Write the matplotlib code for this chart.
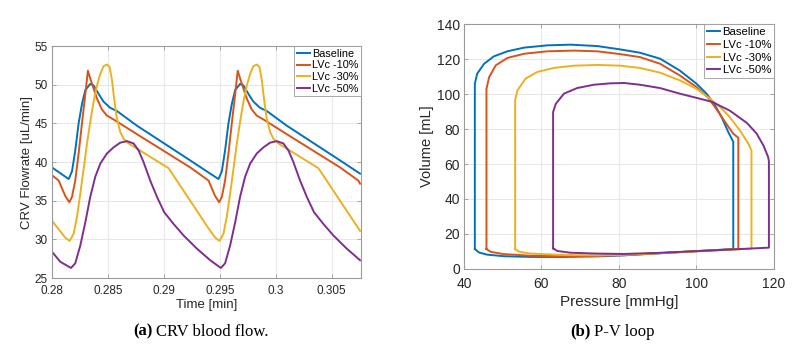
import numpy as np
import matplotlib.pyplot as plt

plt.rcParams['font.family'] = ['Liberation Sans', 'DejaVu Sans']

# --- (a) CRV blood flow ---
t_base = [0.28000, 0.28149, 0.28179, 0.28208, 0.28238, 0.28268, 0.28298, 0.28342, 0.28372, 0.28417,
          0.28461, 0.28521, 0.28580, 0.28759, 0.29003, 0.29236, 0.29414, 0.29488, 0.29518, 0.29547,
          0.29577, 0.29607, 0.29637, 0.29681, 0.29711, 0.29756, 0.29800, 0.29860, 0.29919, 0.30098,
          0.30342, 0.30575, 0.30753]
q_base = [39.3, 37.8, 38.8, 41.5, 45.0, 47.5, 49.3, 50.1, 49.9, 48.8,
          47.8, 47.0, 46.6, 44.7, 42.4, 40.2, 38.5, 37.8, 38.8, 41.5,
          45.0, 47.5, 49.3, 50.1, 49.9, 48.8, 47.8, 47.0, 46.6, 44.7,
          42.4, 40.2, 38.5]

t_10 = [0.28000, 0.28060, 0.28119, 0.28155, 0.28179, 0.28208, 0.28238, 0.28268, 0.28298, 0.28321,
        0.28342, 0.28372, 0.28402, 0.28446, 0.28491, 0.28551, 0.28759, 0.29003, 0.29236, 0.29399,
        0.29458, 0.29494, 0.29518, 0.29547, 0.29577, 0.29607, 0.29637, 0.29660, 0.29681, 0.29711,
        0.29741, 0.29785, 0.29830, 0.29890, 0.30098, 0.30342, 0.30575, 0.30738, 0.30753]
q_10 = [38.3, 37.6, 35.6, 34.8, 35.5, 37.6, 41.1, 45.0, 48.8, 51.8,
        50.8, 49.5, 48.2, 46.8, 46.0, 45.5, 43.6, 41.4, 39.3, 37.6,
        35.6, 34.8, 35.5, 37.6, 41.1, 45.0, 48.8, 51.8, 50.8, 49.5,
        48.2, 46.8, 46.0, 45.5, 43.6, 41.4, 39.3, 37.6, 37.2]

t_30 = [0.28000, 0.28120, 0.28158, 0.28193, 0.28223, 0.28253, 0.28283, 0.28313, 0.28342, 0.28372,
        0.28402, 0.28432, 0.28461, 0.28491, 0.28515, 0.28536, 0.28557, 0.28580, 0.28610, 0.28640,
        0.28685, 0.29042, 0.29414, 0.29460, 0.29497, 0.29532, 0.29562, 0.29592, 0.29622, 0.29652,
        0.29681, 0.29711, 0.29741, 0.29771, 0.29800, 0.29830, 0.29854, 0.29875, 0.29896, 0.29919,
        0.29949, 0.29979, 0.30024, 0.30381, 0.30753]
q_30 = [32.4, 30.2, 29.8, 30.7, 32.9, 35.9, 39.1, 42.4, 45.2, 47.8,
        49.9, 51.4, 52.4, 52.6, 52.3, 50.6, 48.0, 45.6, 43.9, 43.0,
        42.4, 39.2, 31.1, 30.2, 29.8, 30.7, 32.9, 35.9, 39.1, 42.4,
        45.2, 47.8, 49.9, 51.4, 52.4, 52.6, 52.3, 50.6, 48.0, 45.6,
        43.9, 43.0, 42.4, 39.2, 31.1]

t_50 = [0.28000, 0.28074, 0.28170, 0.28208, 0.28253, 0.28298, 0.28342, 0.28387, 0.28432, 0.28491,
        0.28551, 0.28610, 0.28670, 0.28729, 0.28774, 0.28818, 0.28878, 0.28938, 0.29003, 0.29086,
        0.29176, 0.29295, 0.29414, 0.29509, 0.29547, 0.29592, 0.29637, 0.29681, 0.29726, 0.29771,
        0.29830, 0.29890, 0.29949, 0.30009, 0.30068, 0.30113, 0.30157, 0.30217, 0.30277, 0.30342,
        0.30425, 0.30515, 0.30634, 0.30753]
q_50 = [28.4, 27.1, 26.3, 26.9, 29.2, 32.2, 35.5, 38.1, 39.8, 41.1,
        41.9, 42.5, 42.7, 42.4, 41.5, 40.0, 37.6, 35.5, 33.5, 32.0,
        30.5, 28.8, 27.3, 26.3, 26.9, 29.2, 32.2, 35.5, 38.1, 39.8,
        41.1, 41.9, 42.5, 42.7, 42.4, 41.5, 40.0, 37.6, 35.5, 33.5,
        32.0, 30.5, 28.8, 27.3]

# --- (b) P-V loops: pressure [mmHg], volume [mL] ---
p_base = [42.8, 42.8, 43.4, 45.2, 47.7, 51.2, 55.5, 61.5, 67.5, 74.4, 80.3, 85.4, 90.6, 95.7, 100.0,
          102.6, 104.8, 106.5, 108.2, 109.5, 109.5, 100.0, 90.0, 81.3, 74.4, 65.8, 57.2, 50.3, 46.0,
          43.9, 42.8]
v_base = [11.4, 105.9, 111.6, 117.3, 121.5, 124.4, 126.5, 127.8, 128.2, 127.4, 125.5, 123.6, 120.2,
          113.4, 105.9, 100.2, 93.5, 86.8, 78.3, 72.7, 11.4, 10.2, 8.9, 7.8, 7.2, 6.9, 6.9, 7.3, 8.2,
          9.4, 11.4]

p_10 = [45.8, 45.8, 46.5, 48.2, 51.2, 55.5, 61.5, 68.4, 74.4, 80.3, 85.4, 90.6, 95.7, 100.0, 103.1,
        105.2, 107.4, 109.5, 110.8, 110.8, 100.0, 90.0, 81.3, 74.4, 65.8, 57.2, 50.3, 46.9, 45.8]
v_10 = [11.4, 103.0, 109.7, 116.4, 120.6, 123.0, 124.4, 124.8, 124.4, 122.8, 121.1, 117.3, 110.6,
        104.0, 97.7, 91.2, 84.0, 77.3, 75.0, 11.4, 10.2, 9.0, 7.9, 7.5, 7.3, 7.6, 8.5, 9.8, 11.4]

p_30 = [53.2, 53.2, 53.8, 55.9, 58.9, 63.2, 68.4, 74.4, 80.3, 85.4, 90.6, 95.7, 100.0, 103.5, 106.1,
        108.6, 111.2, 113.4, 114.2, 114.2, 100.0, 90.0, 81.3, 74.4, 65.8, 57.2, 54.2, 53.2]
v_30 = [11.4, 96.4, 102.1, 108.8, 112.6, 114.9, 116.2, 116.6, 116.2, 114.9, 112.2, 107.8, 103.0, 97.3,
        92.6, 86.8, 79.2, 71.6, 67.7, 11.6, 10.1, 9.0, 8.1, 7.8, 8.0, 8.8, 9.9, 11.4]

p_50 = [63.0, 63.0, 63.7, 65.8, 69.2, 73.5, 77.8, 81.3, 85.4, 90.6, 95.7, 100.0, 103.9, 108.6, 113.0,
        115.5, 117.3, 118.5, 118.7, 118.7, 100.0, 90.0, 81.3, 74.4, 67.5, 64.1, 63.0]
v_50 = [11.8, 89.7, 94.4, 100.2, 103.4, 105.3, 106.1, 106.3, 105.3, 103.4, 100.2, 97.8, 95.6, 90.5,
        83.5, 77.5, 70.5, 64.0, 61.5, 12.2, 10.2, 9.2, 8.6, 8.8, 9.3, 10.3, 11.8]

labels = ['Baseline', 'LVc -10%', 'LVc -30%', 'LVc -50%']
colors = ['#0072BD', '#D95319', '#EDB120', '#7E2F8E']

fig = plt.figure(figsize=(7.96, 3.47), dpi=100)
ax1 = fig.add_axes([0.0653, 0.1988, 0.388, 0.6686])
ax2 = fig.add_axes([0.5829, 0.2248, 0.3894, 0.706])


def style(ax, fs, xpad):
    for s in ax.spines.values():
        s.set_color('#9a9a9a')
        s.set_linewidth(0.8)
    ax.tick_params(direction='in', top=True, right=True, length=3, width=0.6,
                   color='#9a9a9a', labelcolor='#262626', labelsize=fs, pad=3)
    ax.tick_params(axis='x', pad=xpad)
    ax.grid(True, color='#e3e3e3', linewidth=0.6)
    ax.set_axisbelow(True)


for t, q, c, lab in zip([t_base, t_10, t_30, t_50], [q_base, q_10, q_30, q_50], colors, labels):
    ax1.plot(t, q, color=c, lw=1.4, label=lab)
ax1.set_xlim(0.28, 0.3076)
ax1.set_ylim(25, 55)
ax1.set_xticks([0.28, 0.285, 0.29, 0.295, 0.3, 0.305])
ax1.set_xticklabels(['0.28', '0.285', '0.29', '0.295', '0.3', '0.305'])
ax1.set_yticks([25, 30, 35, 40, 45, 50, 55])
style(ax1, 8.5, 4.8)
ax1.set_xlabel('Time [min]', fontsize=9.5, color='#262626', labelpad=2)
ax1.set_ylabel('CRV Flowrate [uL/min]', fontsize=9.5, color='#262626', labelpad=1)
leg1 = ax1.legend(loc='upper right', borderaxespad=0, fontsize=7.8, handlelength=1.2,
                  handletextpad=0.2, labelspacing=0.15, borderpad=0.25, fancybox=False,
                  framealpha=1, edgecolor='#9a9a9a')
leg1.get_frame().set_linewidth(0.6)

for p, v, c, lab in zip([p_base, p_10, p_30, p_50], [v_base, v_10, v_30, v_50], colors, labels):
    ax2.plot(p, v, color=c, lw=1.4, label=lab)
ax2.set_xlim(40, 120)
ax2.set_ylim(0, 140)
ax2.set_xticks([40, 60, 80, 100, 120])
ax2.set_yticks(np.arange(0, 141, 20))
style(ax2, 10, 5.5)
ax2.set_xlabel('Pressure [mmHg]', fontsize=11, color='#262626', labelpad=3)
ax2.set_ylabel('Volume [mL]', fontsize=10.5, color='#262626', labelpad=2)
leg2 = ax2.legend(loc='upper right', borderaxespad=0, fontsize=8.2, handlelength=1.2,
                  handletextpad=0.2, labelspacing=0.25, borderpad=0.25, fancybox=False,
                  framealpha=1, edgecolor='#9a9a9a')
leg2.get_frame().set_linewidth(0.6)

# captions: bold sub-figure letter, then regular text
serif = ['Liberation Serif', 'DejaVu Serif']
ycap = 1 - 335.5 / 347
fig.text(153 / 796, ycap, '(a)', family=serif, fontsize=12, weight='bold', ha='right', va='baseline')
fig.text(156.5 / 796, ycap, 'CRV blood flow.', family=serif, fontsize=12, ha='left', va='baseline')
fig.text(590.5 / 796, ycap, '(b)', family=serif, fontsize=12, weight='bold', ha='right', va='baseline')
fig.text(594 / 796, ycap, 'P-V loop', family=serif, fontsize=12, ha='left', va='baseline')

fig.savefig('out.png', dpi=100)
